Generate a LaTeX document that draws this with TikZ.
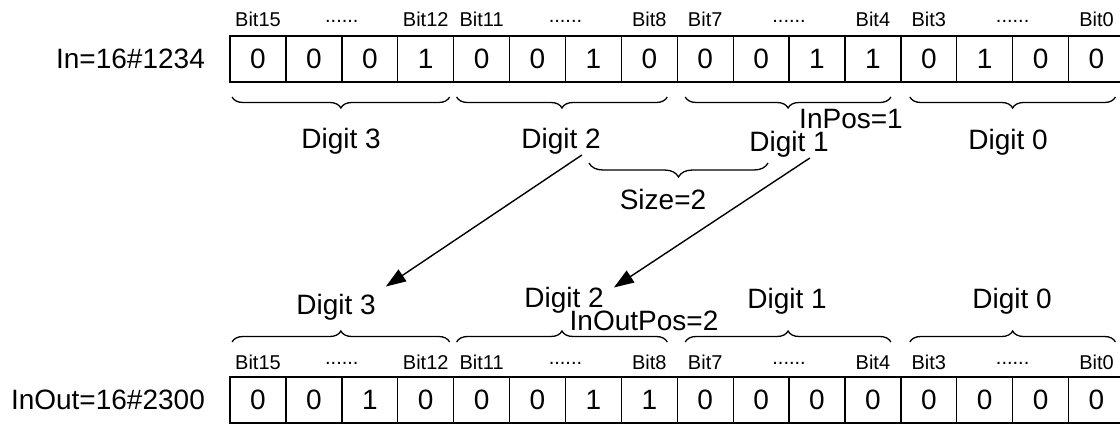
\documentclass[tikz,border=0pt]{standalone}
\usepackage{fontspec}
\setmainfont{Liberation Sans}
\usetikzlibrary{arrows.meta,positioning,calc,decorations.pathreplacing}

\begin{document}
\begin{tikzpicture}[x=1pt, y=-1pt,
cell/.style={draw, line width=1.3pt, minimum width=55.9pt, minimum height=46pt, inner sep=0pt, outer sep=0pt, font=\fontsize{28}{34}\selectfont},
bitlbl/.style={inner sep=0pt, font=\fontsize{20}{24}\selectfont},
lbl/.style={inner sep=0pt, font=\fontsize{28}{34}\selectfont},
brace/.style={decorate, decoration={brace, amplitude=11pt}, line width=1.3pt},
arrow/.style={-{Triangle[length=20pt, width=14pt]}, line width=1.4pt}
]
\useasboundingbox (0,0) rectangle (1120,425);

% the two words
\foreach \v [count=\i from 0] in {0,0,0,1,0,0,1,0,0,0,1,1,0,1,0,0}{
  \pgfmathtruncatemacro\b{15-\i}
  \node[cell] (in-\b) at ({258+55.9*\i},59) {\v};
}
\foreach \v [count=\i from 0] in {0,0,1,0,0,0,1,1,0,0,0,0,0,0,0,0}{
  \pgfmathtruncatemacro\b{15-\i}
  \node[cell] (out-\b) at ({258+55.9*\i},400) {\v};
}
\node[lbl, anchor=east, left=25pt of in-15] (innum) {In=16\#1234};
\node[lbl, anchor=east, left=25pt of out-15] (outnum) {InOut=16\#2300};

% bit numbers and digit braces
\foreach \g/\da/\db in {3/2/4,2/3/10,1/8/10,0/9/9}{
  \pgfmathtruncatemacro\hi{4*\g+3}
  \pgfmathtruncatemacro\lo{4*\g}
  \pgfmathtruncatemacro\mi{4*\g+2}
  \node[bitlbl, anchor=base] (inhi-\g) at ([yshift=9pt]in-\hi.north) {Bit\hi};
  \node[bitlbl, anchor=base] (inlo-\g) at ([yshift=9pt]in-\lo.north) {Bit\lo};
  \node[bitlbl, anchor=base] (indots-\g) at ([yshift=13pt]in-\mi.north east) {......};
  \node[bitlbl, anchor=base] (outhi-\g) at ([yshift=8pt]out-\hi.north) {Bit\hi};
  \node[bitlbl, anchor=base] (outlo-\g) at ([yshift=8pt]out-\lo.north) {Bit\lo};
  \node[bitlbl, anchor=base] (outdots-\g) at ([yshift=13pt]out-\mi.north east) {......};
  \draw[brace] ([shift={(-\db,15)}]in-\lo.south east) -- ([shift={(\da,15)}]in-\hi.south west);
  \draw[brace] ([shift={(\da,-35)}]out-\hi.north west) -- ([shift={(-\db,-35)}]out-\lo.north east);
}

% digit labels
\node[lbl, anchor=base] (dig3in) at (341,149) {Digit 3};
\node[lbl, anchor=base] (dig2in) at (561,149) {Digit 2};
\node[lbl, anchor=base] (dig1in) at (789,152) {Digit 1};
\node[lbl, anchor=base] (dig0in) at (1008,150) {Digit 0};
\node[lbl, anchor=base] (inpos) at (851,129) {InPos=1};
\draw[brace, decoration={amplitude=14pt}] (768,163) -- (589,163);
\node[lbl, anchor=base] (size) at (663,210) {Size=2};

\node[lbl, anchor=base] (dig3out) at (336,314) {Digit 3};
\node[lbl, anchor=base] (dig2out) at (564,307) {Digit 2};
\node[lbl, anchor=base] (dig1out) at (787,308) {Digit 1};
\node[lbl, anchor=base] (dig0out) at (1012,308) {Digit 0};
\node[lbl, anchor=base] (inoutpos) at (644,330) {InOutPos=2};

% moved digits
\draw[arrow] ([xshift=-19pt]dig2in.south east) -- ([shift={(10,-7)}]dig3out.north east);
\draw[arrow] ([xshift=-19pt]dig1in.south east) -- ([shift={(10,1)}]dig2out.north east);
\end{tikzpicture}
\end{document}
